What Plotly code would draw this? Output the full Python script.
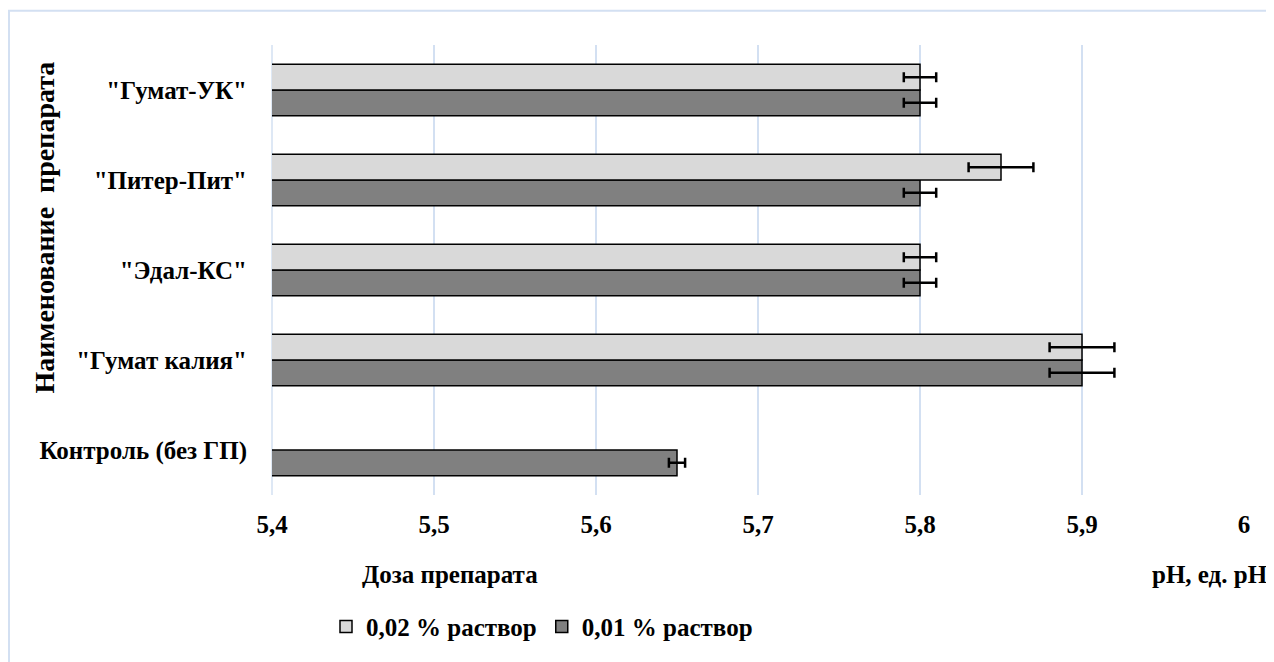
import plotly.graph_objects as go

categories = ['Контроль (без ГП)', '"Гумат калия"', '"Эдал-КС"', '"Питер-Пит"', '"Гумат-УК"']
ph_002 = [None, 5.9, 5.8, 5.85, 5.8]
err_002 = [0, 0.02, 0.01, 0.02, 0.01]
ph_001 = [5.65, 5.9, 5.8, 5.8, 5.8]
err_001 = [0.005, 0.02, 0.01, 0.01, 0.01]
x_ticks = [5.4, 5.5, 5.6, 5.7, 5.8, 5.9, 6.0]
x_tick_text = ['5,4', '5,5', '5,6', '5,7', '5,8', '5,9', '6']

FONT = "serif"
FS = 25

def bold(size=FS):
    return dict(family=FONT, size=size, color='black', weight='bold')

fig = go.Figure()
fig.add_trace(go.Bar(
    y=categories, x=ph_001, orientation='h', name='0,01 % раствор',
    marker=dict(color='#808080', line=dict(color='black', width=1.5)),
    error_x=dict(type='data', array=err_001, color='black', thickness=2.5, width=5),
))
fig.add_trace(go.Bar(
    y=categories, x=ph_002, orientation='h', name='0,02 % раствор',
    marker=dict(color='#D9D9D9', line=dict(color='black', width=1.5)),
    error_x=dict(type='data', array=err_002, color='black', thickness=2.5, width=5),
))

OFF = 8  # page body margin
W, H = 1274 - OFF, 662 - OFF
L, R, T, B = 272 - OFF, 30, 45 - OFF, 164 - OFF
pw, ph = W - L - R, H - T - B

def px(xpix):
    return (xpix - OFF - L) / pw

def py(ypix):
    return (H - B - (ypix - OFF)) / ph

fig.update_layout(
    width=W, height=H,
    margin=dict(l=L, r=R, t=T, b=B),
    paper_bgcolor='white', plot_bgcolor='white',
    barmode='group', bargap=0.43, bargroupgap=0,
    font=bold(),
    xaxis=dict(
        range=[5.4, 6.0], tickvals=x_ticks, ticktext=x_tick_text,
        showgrid=True, gridcolor='#D3E0F2', gridwidth=1.5,
        zeroline=False, showline=False, ticks='',
        tickfont=bold(), ticklabelstandoff=12,
    ),
    yaxis=dict(
        categoryorder='array', categoryarray=categories,
        showgrid=False, showline=False, ticks='', zeroline=False,
        tickfont=bold(), ticklabelstandoff=24,
    ),
    legend=dict(
        orientation='h', traceorder='reversed',
        x=px(326), y=py(641), xanchor='left', yanchor='middle',
        font=bold(), itemwidth=30,
    ),
    showlegend=True,
    shapes=[
        dict(type='rect', xref='paper', yref='paper',
             x0=px(9), x1=px(1290), y0=py(700), y1=py(10),
             line=dict(color='#D3E0F2', width=2), fillcolor='rgba(0,0,0,0)', layer='below'),
        dict(type='line', xref='paper', yref='paper',
             x0=0, x1=0, y0=0, y1=1,
             line=dict(color='#D3E0F2', width=1.5), layer='below'),
    ],
    annotations=[
        dict(text='Доза препарата', xref='paper', yref='paper',
             x=px(450), y=py(587), xanchor='center', yanchor='middle', showarrow=False,
             font=bold()),
        dict(text='pH, ед. pH', xref='paper', yref='paper',
             x=px(1270), y=py(587), xanchor='right', yanchor='middle', showarrow=False,
             font=bold()),
        dict(text='Наименование  препарата', xref='paper', yref='paper',
             x=px(45), y=py(232), xanchor='center', yanchor='middle', showarrow=False,
             textangle=-90, font=bold(28)),
    ],
)

fig.write_html("out.html")
